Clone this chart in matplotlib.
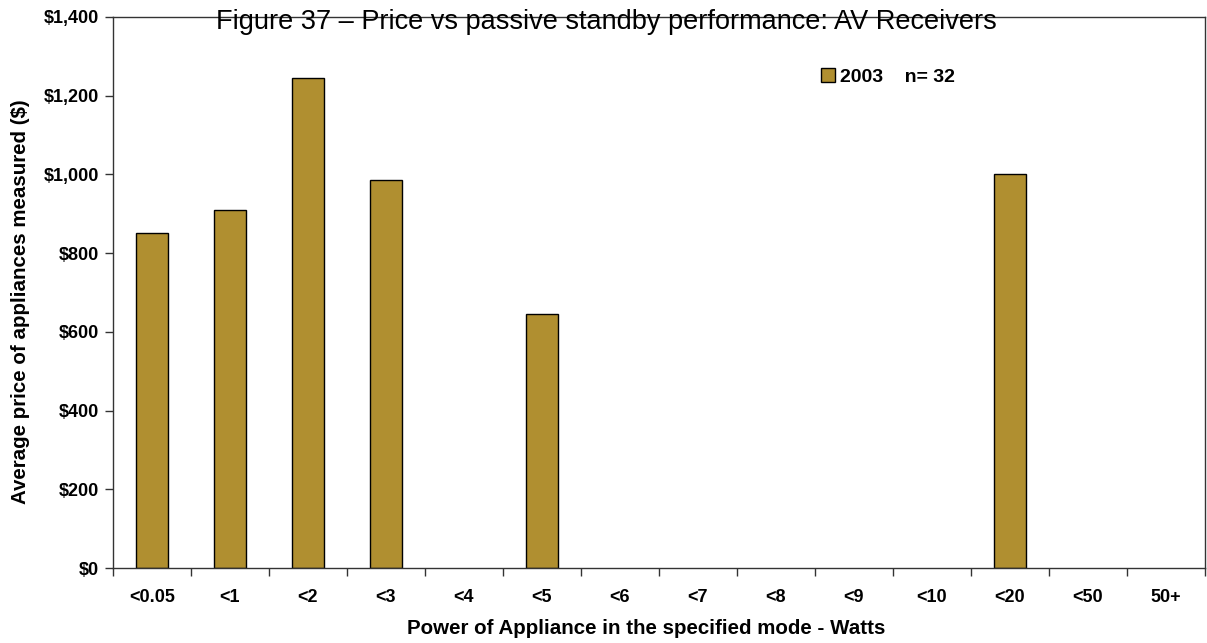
import numpy as np
import matplotlib.pyplot as plt
from matplotlib.ticker import FuncFormatter

plt.rcParams['font.family'] = ['Liberation Sans', 'DejaVu Sans']

# Data
categories = ['<0.05', '<1', '<2', '<3', '<4', '<5', '<6', '<7', '<8', '<9',
              '<10', '<20', '<50', '50+']
prices = [850, 910, 1245, 987, 0, 646, 0, 0, 0, 0, 0, 1000, 0, 0]
series_label = '2003    n= 32'

fig = plt.figure(figsize=(12.07, 6.43), dpi=100)
ax = fig.add_axes([0.0936, 0.1166, 0.9047, 0.857])

x = np.arange(len(categories))
bars = ax.bar(x, prices, width=0.4, color='#B08F30', edgecolor='#000000',
              linewidth=1.0, label=series_label)
# empty categories show no outline
for b, v in zip(bars, prices):
    if v == 0:
        b.set_linewidth(0)

ax.set_xlim(-0.5, len(categories) - 0.5)
ax.set_ylim(0, 1400)
ax.set_yticks(np.arange(0, 1401, 200))
ax.yaxis.set_major_formatter(FuncFormatter(lambda v, p: '${:,.0f}'.format(v)))

# ticks at the category boundaries, labels in the middle
ax.set_xticks(np.arange(-0.5, len(categories) + 0.5, 1.0))
ax.set_xticklabels([])
ax.set_xticks(x, minor=True)
ax.set_xticklabels(categories, minor=True, fontsize=13, fontweight='bold')
ax.tick_params(axis='x', which='minor', length=0, pad=15)
ax.tick_params(axis='x', which='major', length=6, width=1, color='#333333', direction='out')
ax.tick_params(axis='y', length=6, width=1, color='#333333', direction='out', pad=4)
for lab in ax.get_yticklabels():
    lab.set_fontsize(13)
    lab.set_fontweight('bold')

for s in ax.spines.values():
    s.set_color('#333333')
    s.set_linewidth(1.0)

ax.set_xlabel('Power of Appliance in the specified mode - Watts', fontsize=14.8,
              fontweight='bold', labelpad=11)
ax.xaxis.set_label_coords(0.488, -0.093)
ax.set_ylabel('Average price of appliances measured ($)', fontsize=14.8,
              fontweight='bold', labelpad=10)
ax.yaxis.set_label_coords(-0.076, 0.483)

fig.text(0.502, 0.966, 'Figure 37 \u2013 Price vs passive standby performance: AV Receivers',
         ha='center', va='center', fontsize=19.5)

ax.legend(loc='center left', bbox_to_anchor=(0.648, 0.891), frameon=False,
          prop={'size': 14, 'weight': 'bold'}, handlelength=0.75, handleheight=0.75,
          handletextpad=0.25, borderaxespad=0, borderpad=0)

fig.savefig('out.png', dpi=100)
